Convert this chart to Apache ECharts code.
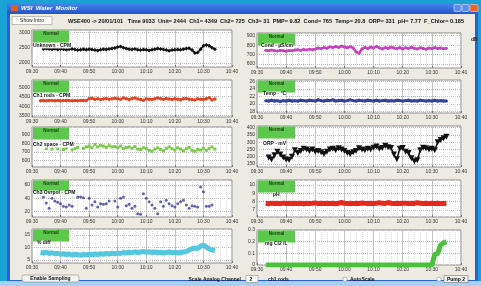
<!DOCTYPE html>
<html>
<head>
<meta charset="utf-8">
<script src="https://cdn.jsdelivr.net/npm/echarts@6/dist/echarts.min.js"></script>
<style>
  html, body { margin: 0; padding: 0; background: #1aa2d4; }
  #chart { width: 481px; height: 286px; }
</style>
</head>
<body>
<div id="chart"></div>
<script>
// minutes after 09:30
const minutes = [3,4,5,6,7,8,9,10,11,12,13,14,15,16,17,18,19,20,21,22,23,24,25,26,27,28,29,30,31,32,
  33,34,35,36,37,38,39,40,41,42,43,44,45,46,47,48,49,50,51,52,53,54,55,56,57,58,59,60,61,62,63,64,65];
const timeTicks = ['09:30','09:40','09:50','10:00','10:10','10:20','10:30','10:40'];

const unknownCpm = [null,2460,2470,2455,2450,2465,2440,2455,2450,2430,
  2445,2460,2440,2420,2435,2450,2430,2445,2440,2420,
  2410,2430,2450,2440,2460,2470,2490,2520,2540,2500,
  2470,2450,2440,2460,2430,2420,2440,2430,2410,2430,
  2450,2470,2460,2440,2420,2400,2420,2430,2440,2430,
  2450,2470,2480,2420,2330,2340,2450,2560,2590,2560,
  2500,2450,null];
const rodsCpm = [4290,4300,4295,4300,4305,4295,4300,4290,4300,4305,
  4300,4295,4300,4290,4300,4305,4300,4400,4420,4370,
  4400,4350,4380,4410,4370,4390,4420,4400,4370,4430,
  4390,4360,4410,4440,4380,4350,4320,4390,4370,4350,
  4400,4430,4390,4370,4410,4380,4350,4400,4370,4340,
  4390,4410,4370,4350,4330,4390,4370,4360,4390,4450,
  4330,4380,null];
const spaceCpm = [null,null,740,null,735,null,740,null,730,745,
  null,725,740,755,null,745,760,770,750,790,
  760,780,770,755,775,760,765,750,770,740,
  755,760,745,765,735,730,750,740,720,710,
  735,750,730,715,745,760,740,725,750,735,
  715,740,755,720,710,730,725,745,720,740,
  760,735,null];
const ovrpolCpm = [null,42,33,25,40,36,34,32,28,27,
  30,28,null,42,42,41,25,40,30,35,
  27,32,31,32,36,null,36,27,40,42,
  29,31,25,28,17,16,47,40,35,30,
  25,17,35,28,37,32,29,27,32,35,
  37,30,25,29,28,27,57,50,28,28,
  30,null,null];
const pctDiff = [8.0,7.8,8.1,7.6,7.9,7.5,7.7,7.3,7.5,7.2,
  7.4,7.0,7.3,7.1,6.9,7.2,7.0,7.3,7.1,7.4,
  7.2,7.5,7.3,7.6,7.4,7.7,7.5,7.8,7.6,8.0,
  7.8,8.1,7.9,8.3,8.0,8.2,8.4,8.1,8.3,8.0,
  8.2,7.9,8.1,7.8,8.0,8.2,7.9,8.1,7.8,8.0,
  8.2,8.4,9.0,9.5,9.8,9.6,10.5,11.0,10.2,9.4,
  9.0,8.8,null];
const cond = [745,740,748,742,738,745,740,736,744,740,
  748,752,745,755,750,758,752,760,770,762,
  775,768,782,774,786,776,790,780,772,784,
  770,730,715,760,775,765,780,770,785,772,
  760,775,765,780,770,762,775,760,772,765,
  778,768,760,772,765,758,770,762,775,765,
  770,762,768];
const temp = [20.9,20.8,21.0,20.8,20.9,20.7,20.9,20.8,21.0,20.8,
  20.9,20.8,21.0,20.9,20.8,21.0,20.9,20.8,21.1,20.9,
  20.8,21.0,20.9,21.1,20.8,20.9,21.0,20.8,20.9,21.1,
  20.9,20.8,21.0,20.9,20.8,21.0,20.9,20.8,21.0,20.8,
  20.9,21.0,20.8,20.9,20.8,21.0,20.9,20.8,20.9,21.0,
  20.8,20.9,20.8,21.0,20.9,20.8,20.9,20.8,21.0,20.8,
  20.9,20.8,20.8];
const orp = [null,195,180,210,235,215,195,180,178,200,
  245,225,240,255,250,240,250,235,240,230,
  218,235,250,255,245,258,250,240,225,218,
  230,240,258,250,245,255,250,262,270,255,
  260,275,265,260,215,182,255,260,235,225,
  190,168,175,245,262,258,250,255,245,300,
  315,327,338];
const ph = [7.8,7.75,7.82,7.78,7.8,7.76,7.83,7.79,7.8,7.77,
  7.81,7.78,7.8,7.76,7.82,7.79,7.8,7.85,7.78,7.8,
  7.77,7.81,7.79,7.8,7.76,7.82,7.9,7.8,7.78,7.81,
  7.79,7.8,7.77,7.83,7.8,7.78,7.81,7.79,7.8,7.88,
  7.8,7.78,7.9,7.81,7.79,7.8,7.77,7.82,7.8,7.78,
  7.81,7.79,7.88,7.8,7.78,7.82,7.79,7.8,7.77,7.8,
  7.79,7.78,7.8];
const chlorine = [0,0,0,0,0,0,0,0,0,0,
  0,0,0,0,0,0,0,0,0,0,
  0,0,0,0,0,0,0,0,0,0,
  0,0,0,0,0,0,0,0,0,0,
  0,0,0,0,0,0,0,0,0,0,
  0,0,0,0,0,0,0,0,0.09,0.10,
  0.17,0.19,0.20];

const statusText = 'WSE400 -> 20/01/101   Time 9033  Unit= 2444  Ch1= 4349  Ch2= 725  Ch3= 31  PMP= 9.82  Cond= 765  Temp= 20.8  ORP= 331  pH= 7.77  F_Chlor= 0.185';

const FONT = '"Liberation Sans", Arial, sans-serif';

const panels = [
  { name: 'Unknown - CPM', data: unknownCpm, color: '#111', x: 32, y: 30, w: 200, h: 37, min: 1870, max: 3075, split: 2, step: 500, symbol: 'diamond', size: 4, lw: 1.5, lx: 33, ly: 46 },
  { name: 'Ch1 rods - CPM', data: rodsCpm, color: '#e8401c', x: 32, y: 80, w: 200, h: 37, min: 3430, max: 5385, split: 4, step: 500, symbol: 'circle', size: 3.5, lw: 1.5, lx: 33, ly: 96 },
  { name: 'Ch2 space - CPM', data: spaceCpm, color: '#7acb4c', x: 32, y: 127, w: 200, h: 40, min: 526, max: 993, split: 4, step: 100, symbol: 'rect', size: 3, lw: 1, lx: 33, ly: 145 },
  { name: 'Ch3 Ovrpol - CPM', data: ovrpolCpm, color: '#3c3c9c', x: 32, y: 180, w: 200, h: 37, min: 12, max: 67.5, split: 3, step: 20, symbol: 'circle', size: 3, type: 'scatter', lx: 33, ly: 193 },
  { name: '% diff', data: pctDiff, color: '#55c8e0', x: 32, y: 229, w: 200, h: 34, min: 3.8, max: 17.4, split: 3, step: 5, symbol: 'none', lw: 5, lx: 37, ly: 243 },
  { name: 'Cond - \u00b5S/cm', data: cond, color: '#c444bc', x: 257, y: 33, w: 204, h: 35, min: 558, max: 929, split: 4, step: 100, symbol: 'circle', size: 3, lw: 2.5, lx: 261, ly: 46 },
  { name: 'Temp - \u00b0C', data: temp, color: '#34409c', x: 257, y: 80, w: 204, h: 33, min: 17.66, max: 26.3, split: 4, step: 2, symbol: 'circle', size: 3, lw: 3, lx: 263, ly: 94 },
  { name: 'ORP - mV', data: orp, color: '#111', x: 257, y: 126, w: 204, h: 41, min: 129, max: 412, split: 5, step: 50, symbol: 'triangle', rotate: 180, size: 6, lw: 1.5, lx: 263, ly: 144 },
  { name: 'pH', data: ph, color: '#e4281c', x: 257, y: 180, w: 204, h: 37, min: 6.16, max: 10.6, split: 4, step: 1, symbol: 'none', lw: 5, lx: 273, ly: 195 },
  { name: 'mg Cl2 /L', data: chlorine, color: '#4cc23c', x: 257, y: 230, w: 204, h: 35, min: 0, max: 0.3, split: 3, step: 0.1, symbol: 'none', lw: 5, lx: 265, ly: 244 }
];

const grids = [], xAxes = [], yAxes = [], series = [];
const graphics = [
  { type: 'rect', shape: { x: 0, y: 0, width: 481, height: 286 }, style: { fill: '#1aa2d4' } },
  { type: 'rect', shape: { x: 7, y: 3, width: 471, height: 279, r: [4, 4, 0, 0] }, style: { fill: '#2a5fd8' } },
  { type: 'rect', shape: { x: 7, y: 3, width: 471, height: 11, r: [4, 4, 0, 0] },
    style: { fill: new echarts.graphic.LinearGradient(0, 0, 0, 1, [{ offset: 0, color: '#4a86ee' }, { offset: 1, color: '#2454c8' }]) } },
  { type: 'rect', shape: { x: 10, y: 14, width: 465, height: 266 }, style: { fill: '#eceae1' } },
  { type: 'rect', shape: { x: 0, y: 281, width: 481, height: 5 }, style: { fill: '#a9d0ee' } },
  { type: 'rect', shape: { x: 11, y: 5, width: 7, height: 6 }, style: { fill: '#e0601c' } },
  { type: 'text', x: 21, y: 8.5, style: { text: 'WSI  Water  Monitor', fill: '#fff', font: 'italic bold 6px ' + FONT, verticalAlign: 'middle' } },
  { type: 'rect', shape: { x: 454, y: 4.5, width: 7, height: 7, r: 1 }, style: { fill: '#5a8ef0', stroke: '#e8eefc', lineWidth: 0.6 } },
  { type: 'rect', shape: { x: 462, y: 4.5, width: 7, height: 7, r: 1 }, style: { fill: '#5a8ef0', stroke: '#e8eefc', lineWidth: 0.6 } },
  { type: 'rect', shape: { x: 470, y: 4.5, width: 8, height: 7, r: 1 }, style: { fill: '#e8642c', stroke: '#f6d8c8', lineWidth: 0.6 } },
  { type: 'rect', shape: { x: 12, y: 16.5, width: 40, height: 8 }, style: { fill: '#fafaf8', stroke: '#9a9a9a', lineWidth: 0.6 } },
  { type: 'text', x: 32, y: 20.6, style: { text: 'Show Intro', fill: '#222', font: '5px ' + FONT, align: 'center', verticalAlign: 'middle' } },
  { type: 'text', x: 68, y: 21, style: { text: statusText, fill: '#111', font: 'bold 5.6px ' + FONT, verticalAlign: 'middle' } },
  { type: 'text', x: 471, y: 40, style: { text: 'dB', fill: '#222', font: 'bold 5px ' + FONT, verticalAlign: 'middle' } },
  // bottom controls
  { type: 'rect', shape: { x: 22, y: 275, width: 57, height: 7, r: 2 }, style: { fill: '#f4f4f0', stroke: '#888', lineWidth: 0.6 } },
  { type: 'text', x: 50.5, y: 278.6, style: { text: 'Enable Sampling', fill: '#111', font: 'bold 5px ' + FONT, align: 'center', verticalAlign: 'middle' } },
  { type: 'text', x: 241, y: 279.3, style: { text: 'Scale Analog Channel', fill: '#111', font: 'bold 5px ' + FONT, align: 'right', verticalAlign: 'middle' } },
  { type: 'rect', shape: { x: 246, y: 275.5, width: 12, height: 7 }, style: { fill: '#fff', stroke: '#888', lineWidth: 0.6 } },
  { type: 'text', x: 251, y: 279.2, style: { text: '2', fill: '#111', font: 'bold 5px ' + FONT, align: 'center', verticalAlign: 'middle' } },
  { type: 'text', x: 268, y: 279.3, style: { text: 'ch1 rods', fill: '#111', font: 'bold 5px ' + FONT, verticalAlign: 'middle' } },
  { type: 'circle', shape: { cx: 345, cy: 279.3, r: 2.2 }, style: { fill: '#fff', stroke: '#888', lineWidth: 0.6 } },
  { type: 'text', x: 350, y: 279.3, style: { text: 'AutoScale', fill: '#111', font: 'bold 5px ' + FONT, verticalAlign: 'middle' } },
  { type: 'circle', shape: { cx: 439, cy: 279.3, r: 2.2 }, style: { fill: '#fff', stroke: '#888', lineWidth: 0.6 } },
  { type: 'rect', shape: { x: 444, y: 275.5, width: 24, height: 7 }, style: { fill: '#f0f0ec', stroke: '#777', lineWidth: 0.6 } },
  { type: 'text', x: 456, y: 279.3, style: { text: 'Pump 2', fill: '#111', font: 'bold 5px ' + FONT, align: 'center', verticalAlign: 'middle' } }
];

panels.forEach((p, i) => {
  grids.push({ left: p.x, top: p.y, width: p.w, height: p.h, show: true, backgroundColor: '#fff', borderColor: '#8c8c8c', borderWidth: 1 });
  xAxes.push({
    gridIndex: i, type: 'value', min: 0, max: 70, interval: 10,
    axisLine: { show: false },
    axisTick: { show: true, inside: true, length: 2, lineStyle: { color: '#777' } },
    axisLabel: { fontSize: 5, color: '#333', margin: 2, fontFamily: FONT, formatter: v => timeTicks[Math.round(v / 10)] },
    splitLine: { show: true, lineStyle: { color: '#c4c4c4', width: 1 } },
    minorTick: { show: false, splitNumber: 5 },
    minorSplitLine: { show: true, lineStyle: { color: '#e0e0e0', type: [1, 1] } }
  });
  yAxes.push({
    gridIndex: i, type: 'value', min: p.min, max: p.max, splitNumber: p.split,
    axisLine: { show: false }, axisTick: { show: false },
    axisLabel: {
      fontSize: 5, color: '#333', margin: 2, fontFamily: FONT,
      formatter: v => {
        const k = v / p.step;
        return Math.abs(k - Math.round(k)) < 1e-6 ? String(+(Math.round(k) * p.step).toFixed(3)) : '';
      }
    },
    splitLine: { show: true, lineStyle: { color: '#bcbcbc', type: [1, 1] } }
  });
  const pts = minutes.map((m, k) => [m, p.data[k] == null ? '-' : p.data[k]]);
  const s = {
    type: p.type || 'line', xAxisIndex: i, yAxisIndex: i, data: pts,
    symbol: p.symbol, symbolSize: p.size || 0, symbolRotate: p.rotate || 0,
    itemStyle: { color: p.color },
    silent: true
  };
  if (s.type === 'line') {
    s.showSymbol = p.symbol !== 'none';
    s.lineStyle = { color: p.color, width: p.lw };
    s.connectNulls = false;
  }
  series.push(s);
  const bw = p.x < 100 ? 36 : 37;
  graphics.push({ type: 'rect', z: 200, shape: { x: p.x + 1, y: p.y + 0.5, width: bw, height: 12 }, style: { fill: '#5cc84c' } });
  graphics.push({ type: 'text', z: 201, x: p.x + 1 + bw / 2, y: p.y + 4, style: { text: 'Normal', fill: '#173d10', font: 'bold 4.5px ' + FONT, align: 'center', verticalAlign: 'middle' } });
  graphics.push({ type: 'text', z: 201, x: p.lx, y: p.ly, style: { text: p.name, fill: '#111', font: 'bold 5px ' + FONT, verticalAlign: 'middle', backgroundColor: 'rgba(255,255,255,0.8)' } });
});

const chart = echarts.init(document.getElementById('chart'), null, { renderer: 'canvas' });
chart.setOption({
  animation: false,
  grid: grids,
  xAxis: xAxes,
  yAxis: yAxes,
  series: series,
  graphic: { elements: graphics.map((g, k) => Object.assign({ z: g.z || (k < 6 ? -10 : 100) }, g)) }
});
</script>
</body>
</html>
